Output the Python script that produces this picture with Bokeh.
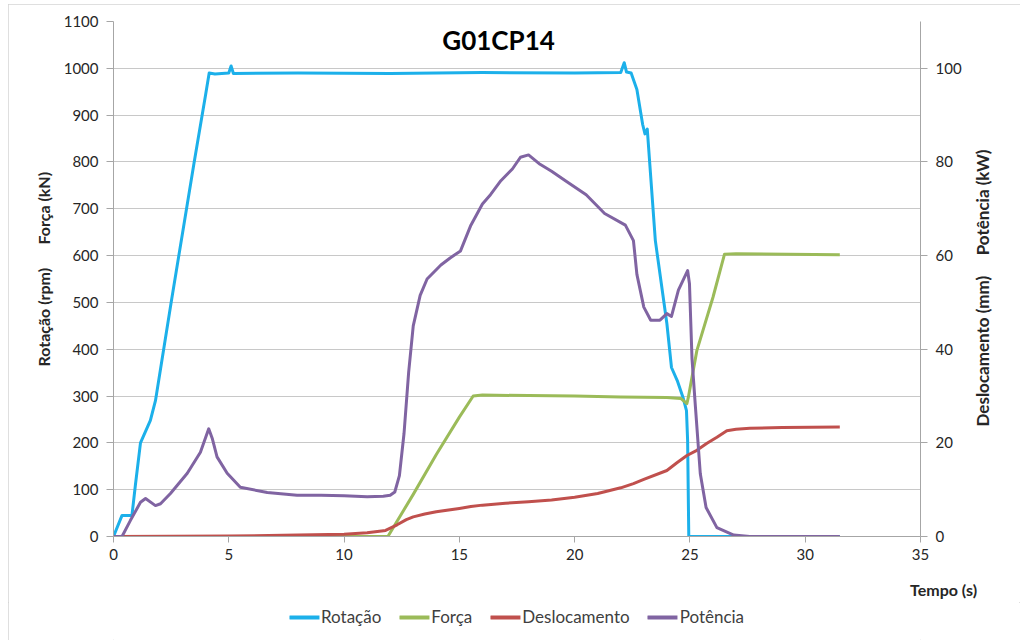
import math
from bokeh.plotting import figure
from bokeh.layouts import column
from bokeh.models import Range1d, LinearAxis, FixedTicker, Legend, LegendItem, Label
from bokeh.embed import file_html
from bokeh.resources import INLINE

# ---------------- data ----------------
title_text = "G01CP14"
x_caption = "Tempo (s)"
left_caption = "\u00a0" * 5 + "Rotação (rpm)\u00a0\u00a0\u00a0\u00a0\u00a0\u00a0Força (kN)"
right_caption = "Deslocamento (mm)\u00a0\u00a0\u00a0\u00a0\u00a0Potência (kW)"
x_ticks = [0, 5, 10, 15, 20, 25, 30, 35]
left_ticks = [0, 100, 200, 300, 400, 500, 600, 700, 800, 900, 1000, 1100]
right_ticks = [0, 20, 40, 60, 80, 100]

# Rotação (rpm) - left axis
rot_t = [0, 0.37, 0.5, 0.8, 0.95, 1.17, 1.6, 1.82, 2.5, 3.0,
         3.5, 4.0, 4.15, 4.4, 5.0, 5.1, 5.2, 8, 12, 16,
         20, 22.0, 22.15, 22.25, 22.45, 22.7, 22.95, 23.05, 23.15, 23.5,
         24.0, 24.2, 24.45, 24.7, 24.85, 24.9, 24.95, 28, 31.5]
rot_v = [0, 45, 45, 45, 110, 200, 248, 290, 500, 650,
         800, 945, 990, 988, 990, 1005, 989, 990, 989, 991,
         990, 991, 1012, 992, 990, 955, 880, 860, 870, 632,
         455, 361, 333, 297, 269, 205, 0, 0, 0]

# Força (kN) - left axis
forca_t = [0, 11.9, 13.0, 14.0, 15.0, 15.6, 16.0, 18, 20, 22,
           24, 24.6, 24.87, 24.93, 25.3, 26.0, 26.5, 27, 31.5]
forca_v = [0, 0, 90, 175, 255, 300, 302, 301, 300, 298,
           297, 295, 284, 297, 397, 511, 603, 604, 602]

# Deslocamento (mm) - right axis
desl_t = [0, 5, 8, 10, 11, 11.8, 12.3, 12.7, 13.0, 13.5,
          14, 15, 15.5, 16, 17, 18, 19, 20, 21, 22,
          22.55, 23, 24.0, 24.45, 24.87, 25.3, 25.74, 26.17, 26.6, 27.0,
          27.6, 29, 31.5]
desl_v = [0, 0.1, 0.3, 0.5, 0.8, 1.3, 2.5, 3.6, 4.2, 4.8,
          5.3, 6.0, 6.4, 6.7, 7.1, 7.4, 7.8, 8.4, 9.2, 10.4,
          11.3, 12.2, 14.1, 15.8, 17.3, 18.4, 19.9, 21.2, 22.6, 22.9,
          23.1, 23.3, 23.4]

# Potência (kW) - right axis
pot_t = [0, 0.37, 0.73, 1.17, 1.39, 1.82, 2.04, 2.47, 3.2, 3.77,
         4.13, 4.28, 4.49, 4.93, 5.5, 6.67, 7.96, 9, 10, 11,
         11.7, 12.0, 12.2, 12.4, 12.6, 12.8, 13.0, 13.3, 13.6, 14.2,
         14.6, 15.05, 15.5, 16.0, 16.35, 16.8, 17.3, 17.65, 18.0, 18.5,
         19.0, 19.6, 20.5, 21.3, 22.2, 22.55, 22.7, 23.0, 23.3, 23.7,
         24.0, 24.2, 24.5, 24.7, 24.9, 24.98, 25.09, 25.24, 25.45, 25.7,
         26.17, 26.9, 27.6, 31.5]
pot_v = [0, 0, 3.4, 7.3, 8.1, 6.6, 7.0, 9.2, 13.5, 18,
         23, 21, 17, 13.5, 10.5, 9.4, 8.8, 8.8, 8.7, 8.5,
         8.6, 8.8, 9.5, 13, 22, 35, 45, 51.5, 55, 58,
         59.5, 61, 66.5, 71, 73, 76, 78.5, 81, 81.5, 79.5,
         78, 76, 73, 69, 66.5, 63.2, 56, 49, 46.2, 46.2,
         47.6, 47, 52.6, 54.7, 56.8, 54, 38, 27.6, 13.4, 6.2,
         1.9, 0.3, 0, 0]

series_names = ["Rotação", "Força", "Deslocamento", "Potência"]
series_colors = ["#1cb0ea", "#9bbb59", "#c0504d", "#8064a2"]
series_axis = ["default", "default", "right", "right"]
series_t = [rot_t, forca_t, desl_t, pot_t]
series_v = [rot_v, forca_v, desl_v, pot_v]

FONT = "Lato"
TXT = "#262626"
AXC = "#a6a6a6"
GRID = "#c8c8c8"


def style_axis(ax, tick_out):
    ax.major_tick_out = tick_out
    ax.major_tick_in = 0
    ax.minor_tick_line_color = None
    ax.axis_line_color = AXC
    ax.major_tick_line_color = AXC
    ax.major_label_text_font = FONT
    ax.major_label_text_font_size = "15px"
    ax.major_label_text_color = TXT


def caption_axis(ax, standoff, orientation, size):
    # an axis used only to carry a caption text at one tick position
    ax.major_tick_out = 0
    ax.major_tick_in = 0
    ax.minor_tick_line_color = None
    ax.axis_line_color = None
    ax.major_tick_line_color = None
    ax.major_label_standoff = standoff
    ax.major_label_orientation = orientation
    ax.major_label_text_font = FONT
    ax.major_label_text_font_size = size
    ax.major_label_text_font_style = "bold"
    ax.major_label_text_color = TXT


p = figure(width=1012, height=598, x_range=Range1d(0, 35), y_range=Range1d(0, 1100),
           output_backend="svg", toolbar_location=None,
           min_border_left=105, min_border_right=100, min_border_top=17, min_border_bottom=66)
p.extra_y_ranges = {"right": Range1d(0, 110)}
p.outline_line_color = None
p.background_fill_color = "white"
p.border_fill_color = "white"

# grid
p.xgrid.grid_line_color = None
p.ygrid.ticker = FixedTicker(ticks=left_ticks)
p.ygrid.grid_line_color = GRID
p.ygrid.grid_line_width = 1

# x axis
xa = p.xaxis[0]
xa.ticker = FixedTicker(ticks=x_ticks)
style_axis(xa, 6)
xa.major_label_standoff = 6

# left axis
ya = p.yaxis[0]
ya.ticker = FixedTicker(ticks=left_ticks)
style_axis(ya, 7)
ya.major_label_standoff = 8
ya.axis_label = left_caption
ya.axis_label_text_font = FONT
ya.axis_label_text_font_size = "16px"
ya.axis_label_text_font_style = "bold"
ya.axis_label_text_color = TXT
ya.axis_label_standoff = 8

# right axis
ra = LinearAxis(y_range_name="right", ticker=FixedTicker(ticks=right_ticks))
style_axis(ra, 7)
ra.major_label_standoff = 8
p.add_layout(ra, "right")

# right caption (reads bottom-to-top), carried by an extra axis
rc_pos = 23.5
rc = LinearAxis(y_range_name="right", ticker=FixedTicker(ticks=[rc_pos]),
                major_label_overrides={rc_pos: right_caption})
caption_axis(rc, 18, math.pi / 2, "17px")
p.add_layout(rc, "right")

# x caption at the right end, carried by an extra axis
xc = LinearAxis(ticker=FixedTicker(ticks=[35]),
                major_label_overrides={35: "\u00a0" * 12 + x_caption})
caption_axis(xc, 17, "horizontal", "16px")
p.add_layout(xc, "below")

# lines
lw = 3
for t, v, c, yr in zip(series_t, series_v, series_colors, series_axis):
    p.line(t, v, line_color=c, line_width=lw, line_join="round", y_range_name=yr)

# title inside the plot area
p.add_layout(Label(x=16.7, y=1060, text=title_text, text_font=FONT, text_font_size="26px",
                   text_font_style="bold", text_color="#000000", text_align="center",
                   text_baseline="middle"))

# legend strip below the chart (its renderers draw the same series, out of this strip's view)
q = figure(width=1012, height=38, x_range=Range1d(0, 35), y_range=Range1d(-2, -1),
           output_backend="svg", toolbar_location=None,
           x_axis_location=None, y_axis_location=None,
           min_border_left=105, min_border_right=100, min_border_top=0, min_border_bottom=0)
q.outline_line_color = None
q.xgrid.grid_line_color = None
q.ygrid.grid_line_color = None
q.background_fill_color = "white"
q.border_fill_color = "white"
swatches = [q.line(t, v, line_color=c, line_width=4, line_cap="round")
            for t, v, c in zip(series_t, series_v, series_colors)]
legend = Legend(items=[LegendItem(label=n, renderers=[r]) for n, r in zip(series_names, swatches)],
                orientation="horizontal", location="top_center", margin=4, padding=0,
                glyph_width=30, glyph_height=16, label_standoff=2, spacing=18,
                border_line_color=None, background_fill_alpha=0,
                label_text_font=FONT, label_text_font_size="17px", label_text_color="#404040")
q.add_layout(legend, "center")

layout = column(p, q)
layout.styles = {"margin-left": "8px", "margin-top": "4px",
                 "outline": "1px solid #d4d4d4", "outline-offset": "-1px"}
open("out.html", "w").write(file_html(layout, INLINE))
